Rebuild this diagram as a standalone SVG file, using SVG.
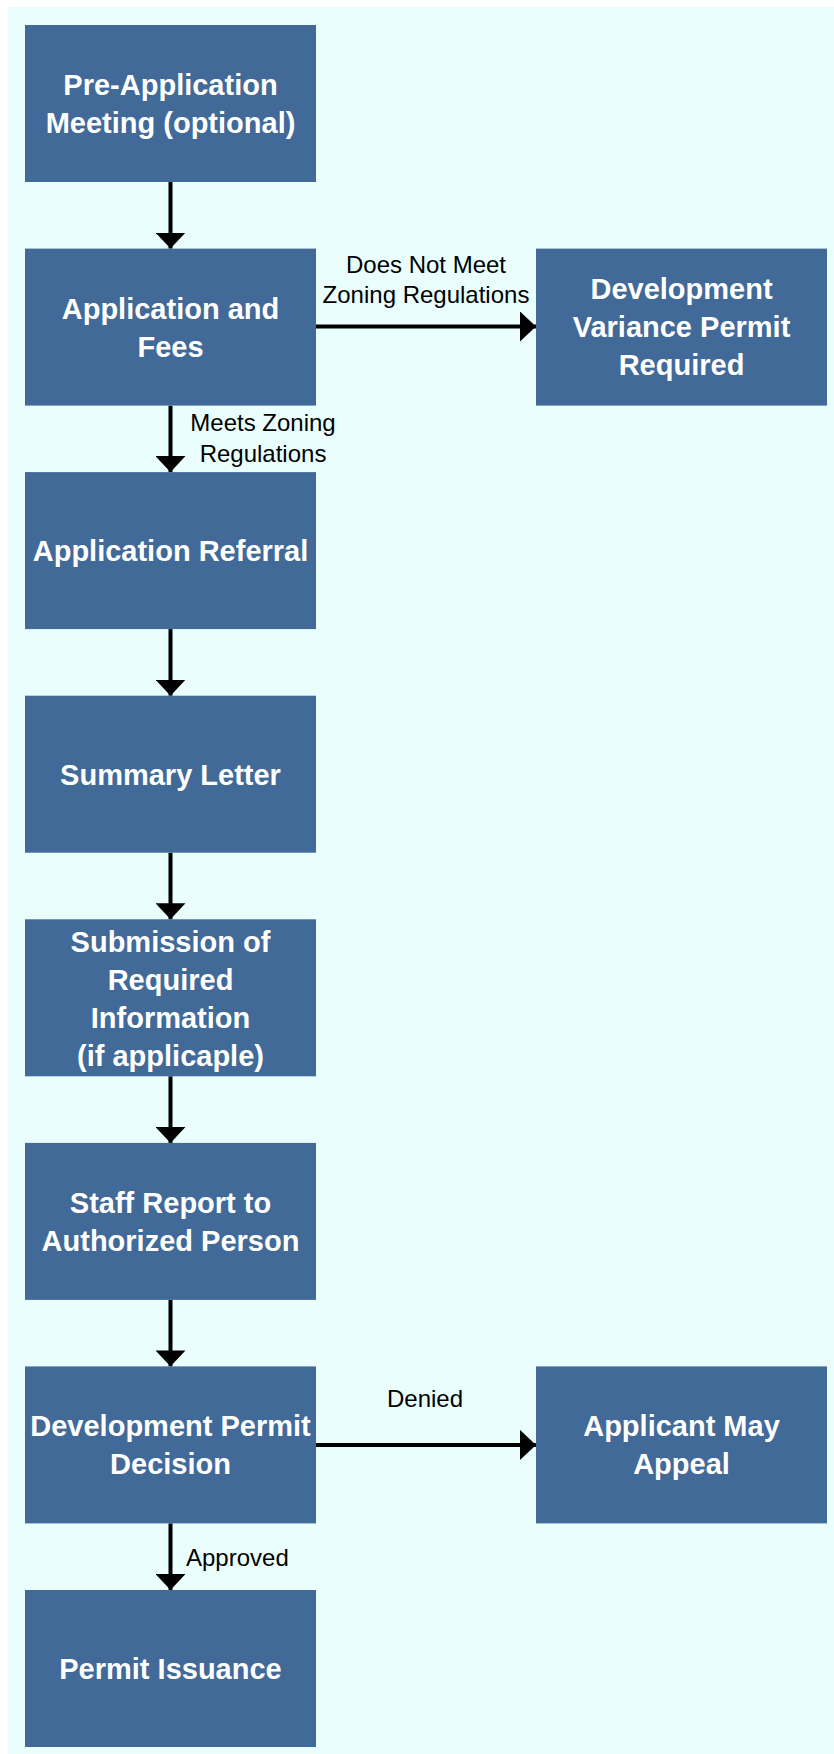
<svg xmlns="http://www.w3.org/2000/svg" width="834" height="1754" viewBox="0 0 834 1754">
<style>
.box{fill:#416a99}
.t{font-family:"Liberation Sans",Arial,sans-serif;font-weight:bold;font-size:29px;fill:#ffffff;text-anchor:middle}
.lbl{font-family:"Liberation Sans",Arial,sans-serif;font-size:24px;fill:#000000;text-anchor:middle}
.lblL{font-family:"Liberation Sans",Arial,sans-serif;font-size:24px;fill:#000000;text-anchor:start}
.c{stroke:#000000;stroke-width:4;fill:none;marker-end:url(#ah)}
</style>
<defs>
<marker id="ah" markerUnits="userSpaceOnUse" markerWidth="16" markerHeight="30" viewBox="0 0 16 30" refX="16" refY="15" orient="auto">
<path d="M0,0 L16,15 L0,30 Z" fill="#000000"/>
</marker>
</defs>
<rect x="0" y="0" width="834" height="1754" fill="#ffffff"/>
<rect x="8" y="7" width="826" height="1747" fill="#ebfefe"/>

<g id="connectors">
<path class="c" d="M170.5,182 V248.6"/>
<path class="c" d="M316,326.5 H536"/>
<path class="c" d="M170.5,405.6 V472.1"/>
<path class="c" d="M170.5,629.1 V695.7"/>
<path class="c" d="M170.5,852.7 V919.3"/>
<path class="c" d="M170.5,1076.3 V1142.9"/>
<path class="c" d="M170.5,1299.9 V1366.4"/>
<path class="c" d="M316,1444.9 H536"/>
<path class="c" d="M170.5,1523.4 V1590"/>
<text class="lbl" x="426" y="273">Does Not Meet</text>
<text class="lbl" x="426" y="303">Zoning Regulations</text>
<text class="lbl" x="263" y="431">Meets Zoning</text>
<text class="lbl" x="263" y="462">Regulations</text>
<text class="lbl" x="425" y="1407">Denied</text>
<text class="lblL" x="186" y="1566">Approved</text>
</g>

<g id="n1">
<rect class="box" x="25" y="25" width="291" height="157"/>
<text class="t" x="170.5" y="95">Pre-Application</text>
<text class="t" x="170.5" y="133">Meeting (optional)</text>
</g>
<g id="n2">
<rect class="box" x="25" y="248.6" width="291" height="157"/>
<text class="t" x="170.5" y="318.6">Application and</text>
<text class="t" x="170.5" y="356.6">Fees</text>
</g>
<g id="n3">
<rect class="box" x="536" y="248.6" width="291" height="157"/>
<text class="t" x="681.5" y="299">Development</text>
<text class="t" x="681.5" y="337">Variance Permit</text>
<text class="t" x="681.5" y="375">Required</text>
</g>
<g id="n4">
<rect class="box" x="25" y="472.1" width="291" height="157"/>
<text class="t" x="170.5" y="561.1">Application Referral</text>
</g>
<g id="n5">
<rect class="box" x="25" y="695.7" width="291" height="157"/>
<text class="t" x="170.5" y="784.7">Summary Letter</text>
</g>
<g id="n6">
<rect class="box" x="25" y="919.3" width="291" height="157"/>
<text class="t" x="170.5" y="952">Submission of</text>
<text class="t" x="170.5" y="990">Required</text>
<text class="t" x="170.5" y="1028">Information</text>
<text class="t" x="170.5" y="1066">(if applicaple)</text>
</g>
<g id="n7">
<rect class="box" x="25" y="1142.9" width="291" height="157"/>
<text class="t" x="170.5" y="1212.9">Staff Report to</text>
<text class="t" x="170.5" y="1250.9">Authorized Person</text>
</g>
<g id="n8">
<rect class="box" x="25" y="1366.4" width="291" height="157"/>
<text class="t" x="170.5" y="1436.4">Development Permit</text>
<text class="t" x="170.5" y="1474.4">Decision</text>
</g>
<g id="n9">
<rect class="box" x="536" y="1366.4" width="291" height="157"/>
<text class="t" x="681.5" y="1436.4">Applicant May</text>
<text class="t" x="681.5" y="1474.4">Appeal</text>
</g>
<g id="n10">
<rect class="box" x="25" y="1590" width="291" height="157"/>
<text class="t" x="170.5" y="1679">Permit Issuance</text>
</g>
</svg>
